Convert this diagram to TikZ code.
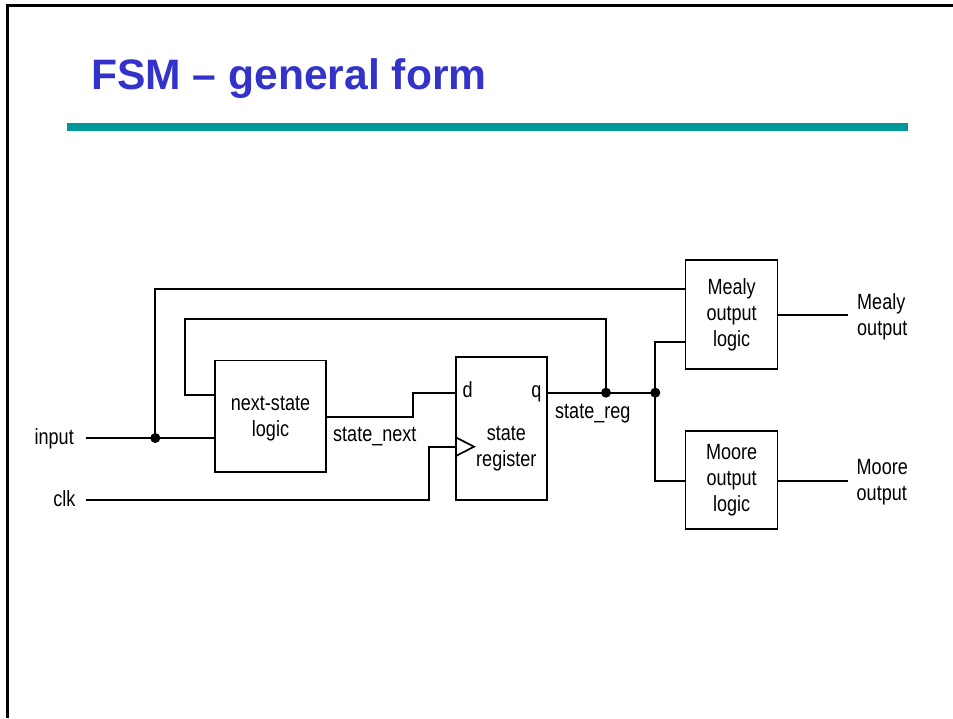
\documentclass[tikz,border=0pt]{standalone}
\usepackage{fontspec}
\setmainfont{Liberation Sans}
\newfontfamily\narrowsf[FakeStretch=0.82]{Liberation Sans}
\newcommand\diagfont{\narrowsf\fontsize{22}{26}\selectfont}
\definecolor{titleblue}{HTML}{3333CC}
\definecolor{rulecolor}{HTML}{009999}
\begin{document}
\begin{tikzpicture}[x=1pt,y=-1pt,
  wire/.style={line width=1.7pt, line join=miter},
  block/.style={draw, line width=1.7pt, rectangle, inner sep=0pt, align=center, font=\diagfont},
  lbl/.style={inner sep=0pt, font=\diagfont},
  joint/.style={circle, fill, inner sep=0pt, minimum size=10pt}]

% page frame and heading
\useasboundingbox (0,0) rectangle (953,718);
\fill[white] (0,0) rectangle (953,718);
\draw[line width=3pt] (7.5,718) -- (7.5,5.3) -- (953,5.3);
\node[anchor=base west, inner sep=0pt, text=titleblue,
      font=\fontsize{42.6}{43}\selectfont\bfseries] (title) at (91,89) {FSM – general form};
\fill[rulecolor] (67.3,123.3) rectangle (908.3,131.3);

% blocks
\node[block, minimum width=111pt, minimum height=111.5pt] (ns) at (270.5,416.25) {};
\node[lbl, align=center] (nstext) at (270.5,418.9) {next-state\\logic};
\node[block, minimum width=91pt, minimum height=143pt] (sr) at (501.5,428.5) {};
\node[lbl, align=center] (srtext) at (506.3,448.5) {state\\register};
\node[block, minimum width=92pt, minimum height=109.3pt] (mealy) at (731.6,314.65) {Mealy\\output\\logic};
\node[block, minimum width=92pt, minimum height=98.6pt] (moore) at (731.6,480) {Moore\\output\\logic};

% wire ends and junctions
\coordinate (inL) at (85.7,438);
\coordinate (clkL) at (85.7,500);
\node[joint] (jin) at (155.3,438) {};
\node[joint] (jq1) at (606,392.7) {};
\node[joint] (jq2) at (655.3,392.7) {};
\coordinate (mealyOut) at (847.7,315);
\coordinate (mooreOut) at (847.7,480.7);

% input and its branch to the Mealy logic
\draw[wire] (inL) -- (jin.center) -- (ns.west |- jin);
\draw[wire] (jin.center) |- (mealy.west |- 0,289.3);

% state feedback into the next-state logic
\draw[wire] (ns.west |- 0,395) -| (185,319.3) -| (jq1.center);

% next state into d
\draw[wire] (ns.east |- 0,416.7) -- (413.3,416.7) |- (sr.west |- jq1);

% clock and its input marker
\draw[wire] (clkL) -- (429.3,500) |- (sr.west |- 0,446.7);
\draw[wire] (sr.west |- 0,437) -- (474,446.7) -- (sr.west |- 0,456.4);

% q output to both output blocks
\draw[wire] (sr.east |- jq1) -- (jq1.center) -- (jq2.center);
\draw[wire] (jq2.center) |- (mealy.west |- 0,341.7);
\draw[wire] (jq2.center) |- (moore.west |- 0,480.7);
\draw[wire] (mealy.east |- mealyOut) -- (mealyOut);
\draw[wire] (moore.east |- mooreOut) -- (mooreOut);

% labels
\node[lbl, anchor=base east] (lin) at (74,444) {input};
\node[lbl, anchor=base east] (lclk) at (75.5,506.5) {clk};
\node[lbl, anchor=base west] (lnext) at (333,441.5) {state\_next};
\node[lbl, anchor=base west] (lreg) at (555,418.5) {state\_reg};
\node[lbl, anchor=base west] (ld) at (462.5,397) {d};
\node[lbl, anchor=base east] (lq) at (541.5,397) {q};
\node[lbl, align=left, anchor=west] (lmealy) at (857,316.8) {Mealy\\output};
\node[lbl, align=left, anchor=west] (lmoore) at (856.5,481.8) {Moore\\output};
\end{tikzpicture}
\end{document}
